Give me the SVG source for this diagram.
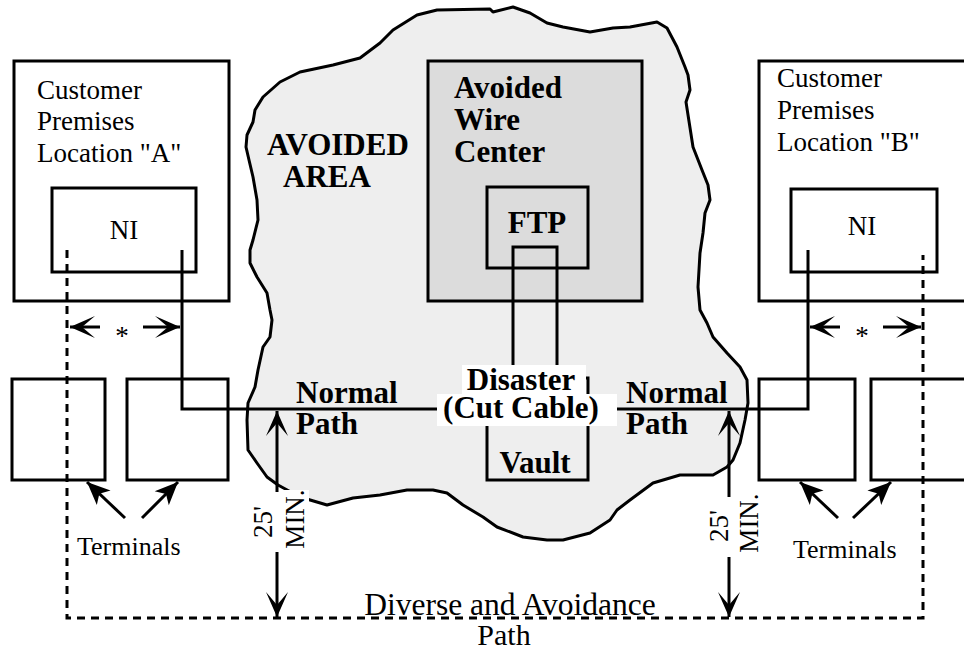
<svg xmlns="http://www.w3.org/2000/svg" width="964" height="651" viewBox="0 0 964 651">
<style>
.ln{fill:none;stroke:#000;stroke-width:3;stroke-linejoin:miter}
.dash{fill:none;stroke:#000;stroke-width:3;stroke-dasharray:8 6}
.box{fill:#fff;stroke:#000;stroke-width:3}
.t{font-family:"Liberation Serif","Times New Roman",serif;font-size:27px;fill:#000}
.b{font-family:"Liberation Serif","Times New Roman",serif;font-size:31px;font-weight:bold;fill:#000}
.mid{text-anchor:middle}
</style>
<defs>
<marker id="chev" viewBox="-27 -12 29 24" refX="0" refY="0" markerWidth="29" markerHeight="24" markerUnits="userSpaceOnUse" orient="auto">
<path d="M0,0 L-25,-11 L-12,0 L-25,11 Z" fill="#000"/>
</marker>
<marker id="fill" viewBox="-25 -12 27 24" refX="0" refY="0" markerWidth="27" markerHeight="24" markerUnits="userSpaceOnUse" orient="auto">
<path d="M0,0 L-23,-10 L-17,0 L-23,10 Z" fill="#000"/>
</marker>
</defs>
<rect width="964" height="651" fill="#fff"/>

<g id="avoided-area">
<path fill="#eeeeee" stroke="#000" stroke-width="3" stroke-linejoin="round" d="M253,122 L255,110 L263,97 L280,82 L300,72 L333,65 L360,58 L380,43 L393,30 L417,15 L437,10 L490,9 L493,12 L513,7 L530,13 L547,23 L563,27 L590,32 L613,28 L630,27 L657,22 L667,28 L677,47 L685,67 L688,75 L690,90 L686,102 L693,147 L702,170 L708,185 L710,200 L705,213 L703,233 L700,253 L698,287 L700,310 L707,323 L713,337 L727,353 L740,367 L747,380 L748,403 L745,420 L740,443 L733,460 L727,467 L713,475 L680,475 L653,483 L630,500 L617,510 L610,520 L590,533 L563,540 L547,540 L523,537 L497,527 L483,517 L463,505 L447,493 L433,490 L407,490 L380,495 L353,498 L327,505 L300,497 L278,485 L267,477 L257,463 L248,450 L247,420 L248,403 L255,387 L258,370 L263,347 L270,337 L272,320 L270,310 L267,293 L257,277 L250,263 L250,250 L253,240 L258,220 L257,200 L253,177 L249,160 L246,147 L247,135 Z"/>
<text class="b" x="267" y="155">AVOIDED</text>
<text class="b" x="283" y="187">AREA</text>
</g>

<g id="wire-center">
<rect x="428" y="61" width="214" height="240" fill="#dcdcdc" stroke="#000" stroke-width="3"/>
<text class="b" x="454" y="98">Avoided</text>
<text class="b" x="454" y="130">Wire</text>
<text class="b" x="454" y="162">Center</text>
</g>

<g id="ftp">
<rect x="487" y="187" width="101" height="81" fill="#dcdcdc" stroke="#000" stroke-width="3"/>
<text class="b mid" x="537" y="233">FTP</text>
</g>

<g id="vault">
<rect x="487" y="378" width="101" height="102" fill="#eeeeee" stroke="#000" stroke-width="3"/>
<text class="b mid" x="535" y="473">Vault</text>
</g>

<g id="customer-a">
<rect class="box" x="14" y="61" width="215" height="240"/>
<text class="t" x="37" y="99">Customer</text>
<text class="t" x="37" y="130">Premises</text>
<text class="t" x="37" y="162">Location "A"</text>
</g>
<g id="ni-a">
<rect class="box" x="52" y="188" width="144" height="84"/>
<text class="t mid" x="124" y="239">NI</text>
</g>

<g id="customer-b">
<rect class="box" x="759" y="61" width="220" height="240"/>
<text class="t" x="777" y="87">Customer</text>
<text class="t" x="777" y="119">Premises</text>
<text class="t" x="777" y="151">Location "B"</text>
</g>
<g id="ni-b">
<rect class="box" x="791" y="189" width="146" height="83"/>
<text class="t mid" x="862" y="235">NI</text>
</g>

<g id="terminal-a1"><rect class="box" x="12" y="379" width="93" height="101"/></g>
<g id="terminal-a2"><rect class="box" x="127" y="379" width="101" height="101"/></g>
<g id="terminal-b1"><rect class="box" x="759" y="379" width="96" height="101"/></g>
<g id="terminal-b2"><rect class="box" x="871" y="379" width="110" height="101"/></g>

<g id="connectors">
<path class="ln" d="M513,365 V247 H557 V365"/>
<path class="ln" d="M182,250 V409 H808 V250"/>
<path class="dash" d="M67,250 V618 H923 V255"/>
<line class="ln" x1="100" y1="327" x2="70" y2="327" marker-end="url(#chev)"/>
<line class="ln" x1="143" y1="327" x2="180" y2="327" marker-end="url(#chev)"/>
<line class="ln" x1="840" y1="327" x2="810" y2="327" marker-end="url(#chev)"/>
<line class="ln" x1="883" y1="327" x2="921" y2="327" marker-end="url(#chev)"/>
<line class="ln" x1="277" y1="492" x2="277" y2="411" marker-end="url(#chev)"/>
<line class="ln" x1="277" y1="552" x2="277" y2="617" marker-end="url(#chev)"/>
<line class="ln" x1="729" y1="497" x2="729" y2="411" marker-end="url(#chev)"/>
<line class="ln" x1="729" y1="557" x2="729" y2="617" marker-end="url(#chev)"/>
<line class="ln" x1="125" y1="518" x2="87" y2="482" marker-end="url(#fill)"/>
<line class="ln" x1="142" y1="518" x2="178" y2="482" marker-end="url(#fill)"/>
<line class="ln" x1="838" y1="518" x2="800" y2="482" marker-end="url(#fill)"/>
<line class="ln" x1="853" y1="518" x2="891" y2="482" marker-end="url(#fill)"/>
</g>

<g id="labels">
<text class="t mid" x="122" y="345">*</text>
<text class="t mid" x="862" y="345">*</text>
<rect x="284" y="490" width="25" height="60" fill="#fff"/>
<text class="t mid" transform="translate(272,522) rotate(-90)">25'</text>
<text class="t mid" transform="translate(304,519) rotate(-90)">MIN.</text>
<text class="t mid" transform="translate(728,526) rotate(-90)">25'</text>
<text class="t mid" transform="translate(758,523) rotate(-90)">MIN.</text>
<rect x="462" y="365" width="124" height="30" fill="#fff"/>
<rect x="437" y="394" width="180" height="32" fill="#fff"/>
<text class="b mid" x="521" y="390">Disaster</text>
<text class="b mid" x="521" y="418">(Cut Cable)</text>
<text class="b" x="296" y="403">Normal</text>
<text class="b" x="296" y="434">Path</text>
<text class="b" x="626" y="403">Normal</text>
<text class="b" x="626" y="434">Path</text>
<text class="t" x="77" y="555" style="font-size:26px">Terminals</text>
<text class="t" x="793" y="558" style="font-size:26px">Terminals</text>
<text class="t mid" x="510" y="615" style="font-size:31.5px">Diverse and Avoidance</text>
<text class="t mid" x="504" y="645" style="font-size:30px">Path</text>
</g>
</svg>
